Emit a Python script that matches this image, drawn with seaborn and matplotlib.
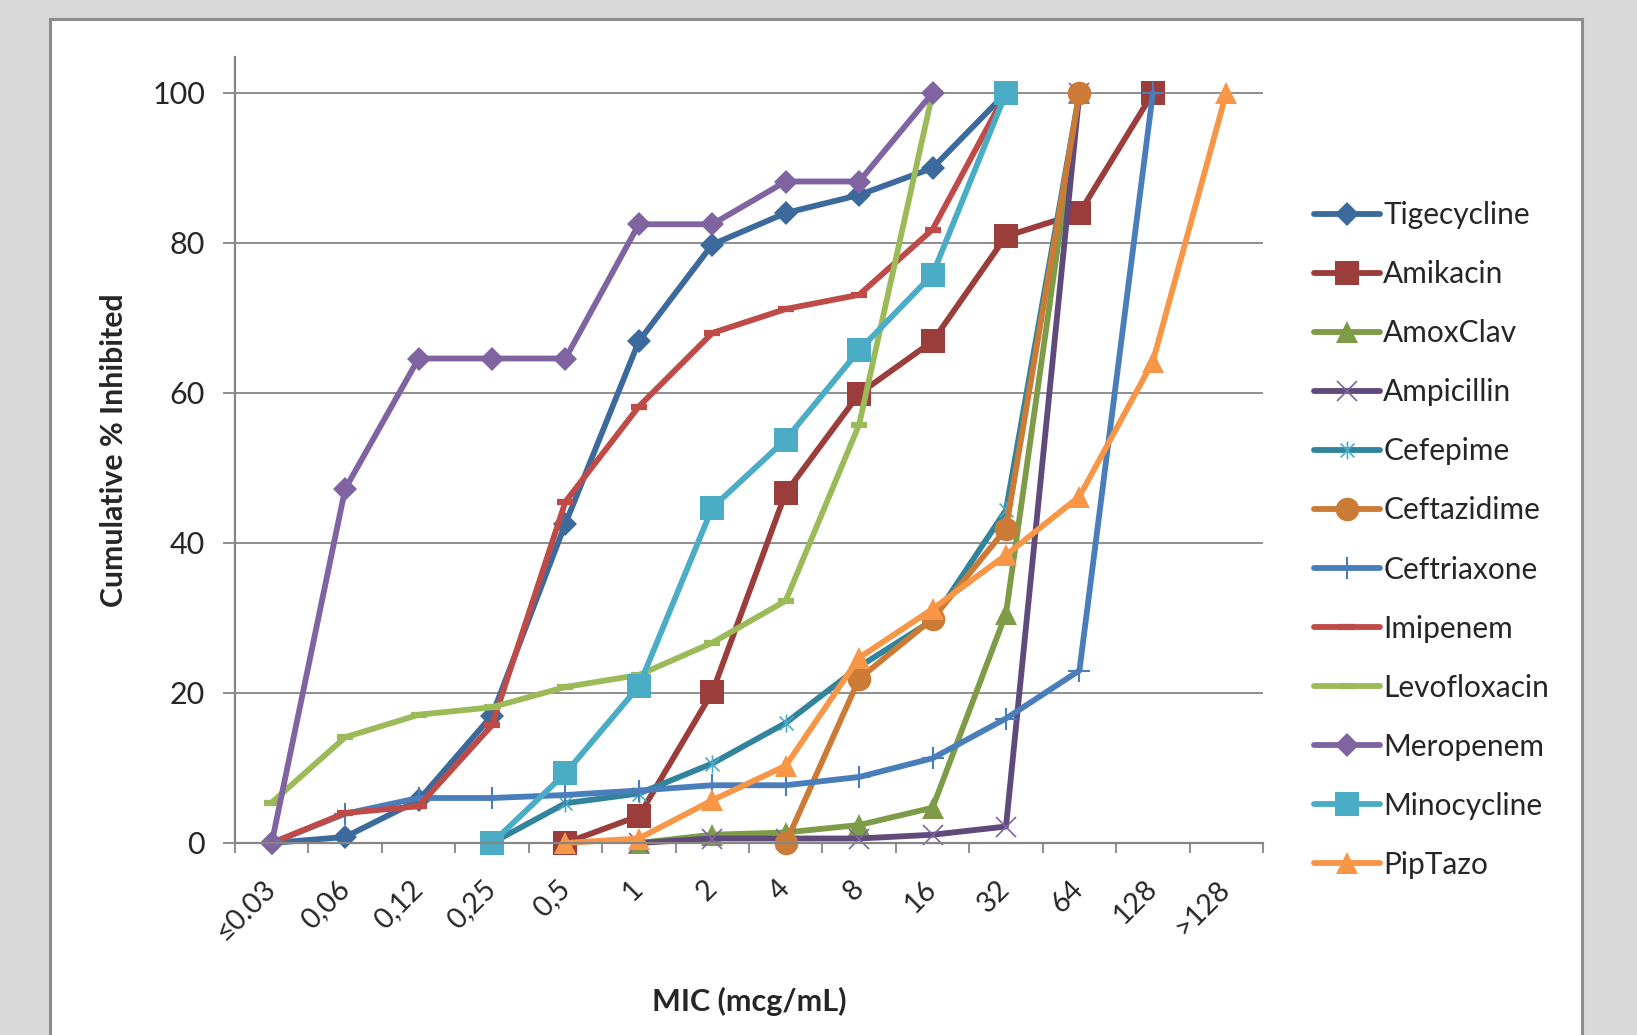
import numpy as np
import pandas as pd
import seaborn as sns
import matplotlib.pyplot as plt
from matplotlib.path import Path
from matplotlib.patches import Rectangle

# MIC categories (x axis)
mic_labels = ['≤0.03', '0,06', '0,12', '0,25', '0,5', '1', '2', '4', '8', '16', '32', '64', '128', '>128']

nan = np.nan
# cumulative % inhibited per drug, one value per MIC category (nan = not plotted)
tigecycline = [0, 0.8, 5.7, 17.0, 42.6, 66.9, 79.8, 84.0, 86.4, 90.0, 100, nan, nan, nan]
amikacin = [nan, nan, nan, nan, 0, 3.6, 20.1, 46.7, 59.9, 66.9, 80.9, 84.0, 100, nan]
amoxclav = [nan, nan, nan, nan, nan, 0, 1.1, 1.4, 2.4, 4.7, 30.6, 100, nan, nan]
ampicillin = [nan, nan, nan, nan, nan, 0, 0.6, 0.6, 0.6, 1.1, 2.2, 100, nan, nan]
cefepime = [nan, nan, nan, 0, 5.3, 6.6, 10.6, 16.0, 23.5, 29.7, 44.4, 100, nan, nan]
ceftazidime = [nan, nan, nan, nan, nan, nan, nan, 0, 21.9, 29.9, 41.9, 100, nan, nan]
ceftriaxone = [0, 3.9, 6.0, 6.0, 6.4, 7.0, 7.7, 7.7, 8.8, 11.3, 16.6, 23.0, 100, nan]
imipenem = [0, 4.0, 4.9, 15.7, 45.5, 58.2, 68.0, 71.2, 73.1, 81.8, 100, nan, nan, nan]
levofloxacin = [5.4, 14.1, 17.1, 18.1, 20.8, 22.4, 26.7, 32.3, 55.8, 100, nan, nan, nan, nan]
meropenem = [0, 47.2, 64.6, 64.6, 64.6, 82.5, 82.5, 88.2, 88.2, 100, nan, nan, nan, nan]
minocycline = [nan, nan, nan, 0, 9.3, 20.9, 44.7, 53.8, 65.7, 75.8, 100, nan, nan, nan]
piptazo = [nan, nan, nan, nan, 0, 0.6, 5.7, 10.3, 24.7, 31.2, 38.4, 46.2, 64.2, 100]

drugs = ['Tigecycline', 'Amikacin', 'AmoxClav', 'Ampicillin', 'Cefepime', 'Ceftazidime',
         'Ceftriaxone', 'Imipenem', 'Levofloxacin', 'Meropenem', 'Minocycline', 'PipTazo']
values = [tigecycline, amikacin, amoxclav, ampicillin, cefepime, ceftazidime,
          ceftriaxone, imipenem, levofloxacin, meropenem, minocycline, piptazo]

# Excel-like asterisk marker (x plus vertical bar)
star = Path([(-1, -1), (1, 1), (-1, 1), (1, -1), (0, -1.3), (0, 1.3)],
            [Path.MOVETO, Path.LINETO, Path.MOVETO, Path.LINETO, Path.MOVETO, Path.LINETO])

# line colour, marker, marker size, marker colour, marker edge width
styles = {
    'Tigecycline': ('#3D6A9C', 'D', 12.5, '#3D6A9C', 0),
    'Amikacin': ('#9B3D3B', 's', 17, '#9B3D3B', 0),
    'AmoxClav': ('#7E9B47', '^', 16, '#7E9B47', 0),
    'Ampicillin': ('#604A7B', 'x', 14, '#8064A2', 1.2),
    'Cefepime': ('#31849B', star, 13, '#4BACC6', 1.2),
    'Ceftazidime': ('#CC7B37', 'o', 17, '#CC7B37', 0),
    'Ceftriaxone': ('#4A7EBB', '+', 16, '#4A7EBB', 1.5),
    'Imipenem': ('#BE4B48', '_', 11, '#BE4B48', 4.5),
    'Levofloxacin': ('#9BBB59', '_', 11, '#9BBB59', 4.5),
    'Meropenem': ('#8064A2', 'D', 12.5, '#8064A2', 0),
    'Minocycline': ('#4BACC6', 's', 17, '#4BACC6', 0),
    'PipTazo': ('#F79646', '^', 16, '#F79646', 0),
}

sns.set_style('white')
plt.rcParams['font.family'] = ['Lato', 'DejaVu Sans']

fig = plt.figure(figsize=(16.37, 10.35), dpi=100, facecolor='#D9D9D9')
# white chart panel with grey border
fig.patches.append(Rectangle((50 / 1637, -0.05), 1532 / 1637, 1 - 19 / 1035 + 0.05,
                             transform=fig.transFigure, facecolor='white',
                             edgecolor='#8C8C8C', linewidth=2.2, zorder=-5))
ax = fig.add_axes([235 / 1637, 1 - 843 / 1035, (1263 - 235) / 1637, (843 - 57) / 1035])
ax.set_facecolor('none')

for name, vals in zip(drugs, values):
    color, marker, ms, mcol, mew = styles[name]
    df = pd.DataFrame({'x': np.arange(len(mic_labels)), 'y': vals}).dropna()
    sns.lineplot(data=df, x='x', y='y', ax=ax, color=color, linewidth=4.2, label=name,
                 marker=marker, markersize=ms, markerfacecolor=mcol, markeredgecolor=mcol,
                 markeredgewidth=mew, errorbar=None, clip_on=False)

ax.set_xlim(-0.5, len(mic_labels) - 0.5)
ax.set_ylim(0, 104.8)
ax.set_yticks([0, 20, 40, 60, 80, 100])
ax.yaxis.grid(True, color='#868686', linewidth=1.3)
ax.set_axisbelow(True)

# tick marks between categories, labels at category centres
ax.set_xticks(np.arange(-0.5, len(mic_labels), 1.0))
ax.set_xticklabels([])
ax.set_xticks(np.arange(len(mic_labels)), labels=mic_labels, minor=True)
ax.tick_params(axis='x', which='major', direction='out', length=7, width=1.3, color='#868686', bottom=True)
ax.tick_params(axis='x', which='minor', length=0, pad=30, labelsize=20.5)
for lbl in ax.get_xticklabels(minor=True):
    lbl.set_rotation(45)
    lbl.set_ha('right')
    lbl.set_va('center')
    lbl.set_rotation_mode('anchor')
ax.tick_params(axis='y', direction='out', length=8.5, width=1.3, color='#868686', left=True,
               pad=13, labelsize=22)

for side in ['top', 'right']:
    ax.spines[side].set_visible(False)
for side in ['left', 'bottom']:
    ax.spines[side].set_color('#868686')
    ax.spines[side].set_linewidth(1.6)

ax.set_xlabel('MIC (mcg/mL)', fontsize=22, fontweight='bold')
ax.set_ylabel('Cumulative % Inhibited', fontsize=21.8, fontweight='bold')
ax.xaxis.set_label_coords(0.5, -0.183)
ax.yaxis.set_label_coords(-0.104, 0.5)

ax.legend(loc='center left', bbox_to_anchor=(1299 / 1637, 1 - 540 / 1035),
          bbox_transform=fig.transFigure, frameon=False, fontsize=21.5,
          handlelength=2.2, handletextpad=0.12, labelspacing=1.04, borderpad=0)

plt.savefig('out.png', dpi=100, facecolor=fig.get_facecolor())
plt.close()
